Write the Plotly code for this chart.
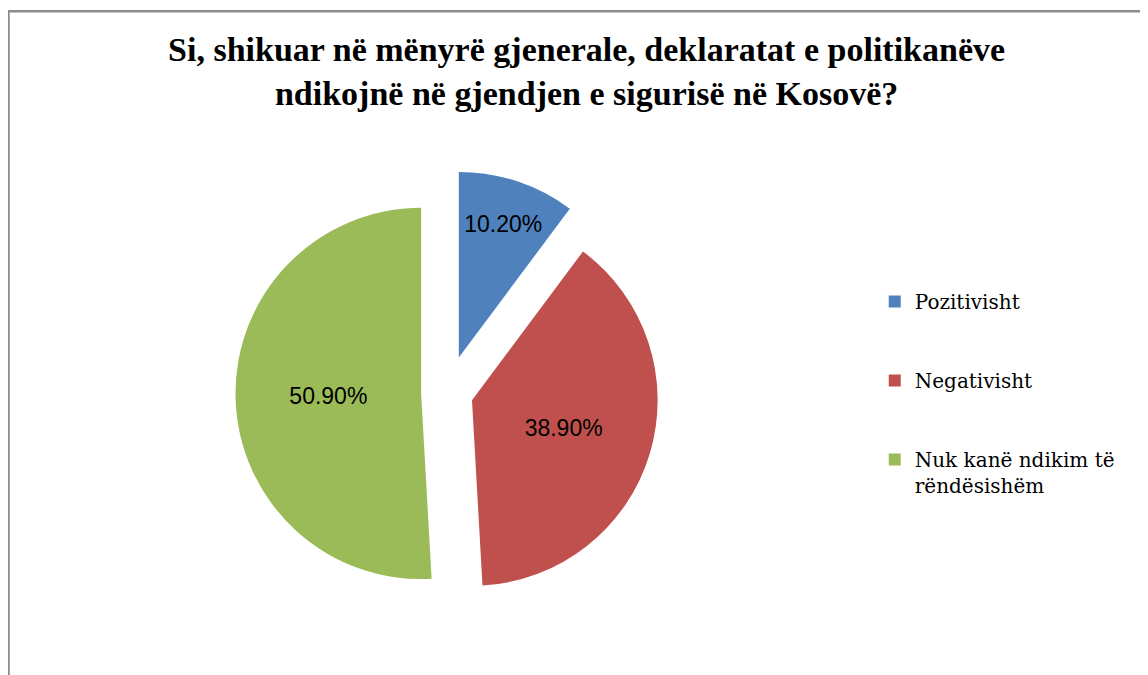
import plotly.graph_objects as go

categories = ["Pozitivisht", "Negativisht", "Nuk kanë ndikim të rëndësishëm"]
legend_labels = ["Pozitivisht", "Negativisht", "Nuk kanë ndikim të<br>rëndësishëm"]
values = [10.2, 38.9, 50.9]
colors = ["#4F81BD", "#C0504D", "#9BBB59"]
pulls = [0.2, 0.14, 0.14]
title_text = ("Si, shikuar në mënyrë gjenerale, deklaratat e politikanëve<br>"
              "ndikojnë në gjendjen e sigurisë në Kosovë?")

fig = go.Figure()

fig.add_trace(go.Pie(
    labels=categories,
    values=values,
    marker=dict(colors=colors, line=dict(width=0)),
    sort=False,
    direction="clockwise",
    rotation=0,
    pull=pulls,
    texttemplate="%{value:.2f}%",
    textposition="inside",
    insidetextorientation="horizontal",
    textfont=dict(family="Liberation Sans", size=23, color="black"),
    showlegend=False,
    domain=dict(x=[0.0, 0.765], y=[0.1, 0.76]),
    hoverinfo="label+value",
))

# legend entries (one group each so the gap between them can be set)
for lab, col in zip(legend_labels, colors):
    fig.add_trace(go.Scatter(
        x=[None], y=[None], mode="markers",
        marker=dict(symbol="square", size=14, color=col),
        name=lab, legendgroup=lab, showlegend=True,
    ))

fig.update_layout(
    width=1148, height=675,
    margin=dict(l=0, r=0, t=0, b=0, autoexpand=False),
    paper_bgcolor="white", plot_bgcolor="white",
    xaxis=dict(visible=False), yaxis=dict(visible=False),
    title=dict(
        text=title_text,
        x=0.504, xanchor="center", y=1 - 53 / 675, yanchor="middle",
        yref="container",
        font=dict(family="Liberation Serif", size=34, color="black", weight="bold"),
    ),
    legend=dict(
        x=0.755, y=1 - 274 / 675, xanchor="left", yanchor="top",
        font=dict(family="DejaVu Serif", size=20, color="black"),
        tracegroupgap=50, valign="top", itemsizing="constant",
        bgcolor="rgba(0,0,0,0)",
    ),
    shapes=[dict(
        type="rect", xref="paper", yref="paper",
        x0=0.5 / 1148, x1=1.02, y0=-0.02, y1=1 - 3.2 / 675,
        line=dict(color="#8C8C8C", width=2.5), fillcolor="rgba(0,0,0,0)",
        layer="below",
    )],
)

fig.write_html("out.html")
